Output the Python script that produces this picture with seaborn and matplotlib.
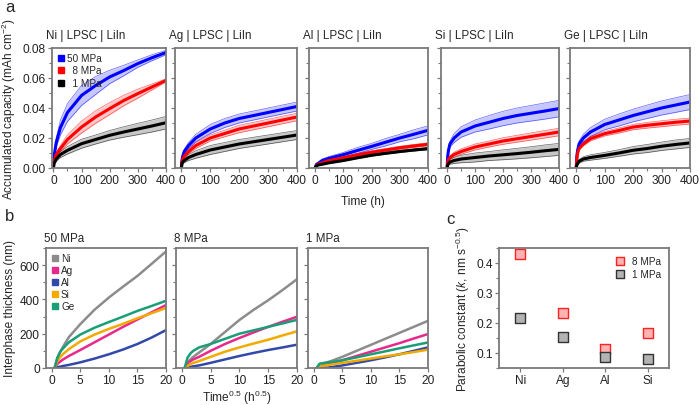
import numpy as np
import pandas as pd
import matplotlib
matplotlib.use("Agg")
import matplotlib.pyplot as plt
import seaborn as sns
from matplotlib.lines import Line2D
from matplotlib.ticker import MultipleLocator

# ---- panel a: accumulated capacity vs time ----
t_h = [0, 2, 5, 10, 25, 50, 100, 150, 200, 250, 300, 350, 400]

ni_50 = [0, 0.007, 0.011, 0.017, 0.027, 0.037, 0.0484, 0.055, 0.0607, 0.065, 0.0696, 0.0735, 0.077]
ni_50_err = [0, 0.001, 0.002, 0.003, 0.005, 0.006, 0.0067, 0.006, 0.0045, 0.0035, 0.0025, 0.002, 0.0015]
ni_8 = [0, 0.004, 0.006, 0.009, 0.013, 0.019, 0.0273, 0.034, 0.0396, 0.045, 0.0496, 0.054, 0.0584]
ni_8_err = [0, 0.0005, 0.001, 0.0015, 0.002, 0.003, 0.004, 0.0042, 0.004, 0.0035, 0.003, 0.002, 0.001]
ni_1 = [0, 0.003, 0.004, 0.006, 0.009, 0.0118, 0.0162, 0.019, 0.0218, 0.024, 0.026, 0.028, 0.0302]
ni_1_err = [0, 0.0005, 0.001, 0.0015, 0.002, 0.0025, 0.003, 0.003, 0.0032, 0.0035, 0.0038, 0.004, 0.0042]

ag_50 = [0, 0.005, 0.008, 0.011, 0.015, 0.020, 0.026, 0.030, 0.033, 0.035, 0.037, 0.039, 0.041]
ag_50_err = [0, 0.0005, 0.001, 0.0015, 0.002, 0.0025, 0.003, 0.003, 0.003, 0.003, 0.003, 0.003, 0.003]
ag_8 = [0, 0.004, 0.006, 0.008, 0.011, 0.015, 0.020, 0.023, 0.026, 0.028, 0.030, 0.032, 0.034]
ag_8_err = [0, 0.0005, 0.001, 0.001, 0.0015, 0.002, 0.002, 0.0022, 0.0025, 0.0025, 0.0025, 0.0025, 0.0025]
ag_1 = [0, 0.003, 0.004, 0.005, 0.007, 0.009, 0.012, 0.014, 0.016, 0.0175, 0.019, 0.0205, 0.022]
ag_1_err = [0, 0.0005, 0.001, 0.0015, 0.002, 0.0025, 0.003, 0.003, 0.003, 0.003, 0.003, 0.003, 0.003]

al_50 = [0, 0.0015, 0.0025, 0.003, 0.005, 0.0065, 0.0089, 0.0117, 0.0144, 0.0172, 0.020, 0.0225, 0.0251]
al_50_err = [0, 0.0003, 0.0005, 0.0007, 0.001, 0.0012, 0.0015, 0.002, 0.002, 0.0025, 0.0025, 0.003, 0.003]
al_8 = [0, 0.001, 0.0018, 0.0025, 0.0035, 0.005, 0.0068, 0.0088, 0.0105, 0.012, 0.0135, 0.0147, 0.0158]
al_8_err = [0, 0.0002, 0.0003, 0.0004, 0.0005, 0.0006, 0.0008, 0.0009, 0.001, 0.001, 0.001, 0.001, 0.001]
al_1 = [0, 0.0008, 0.0014, 0.002, 0.0025, 0.0035, 0.005, 0.0068, 0.0085, 0.0098, 0.011, 0.012, 0.0129]
al_1_err = [0, 0.0002, 0.0002, 0.0003, 0.0003, 0.0004, 0.0005, 0.0005, 0.0006, 0.0006, 0.0007, 0.0007, 0.0008]

si_50 = [0, 0.008, 0.012, 0.016, 0.020, 0.024, 0.028, 0.0305, 0.033, 0.035, 0.0365, 0.038, 0.0396]
si_50_err = [0, 0.001, 0.0015, 0.002, 0.003, 0.0035, 0.004, 0.0045, 0.0048, 0.005, 0.0052, 0.0054, 0.0055]
si_8 = [0, 0.004, 0.006, 0.007, 0.009, 0.011, 0.014, 0.016, 0.018, 0.0195, 0.021, 0.0225, 0.024]
si_8_err = [0, 0.0005, 0.001, 0.0012, 0.0015, 0.0018, 0.002, 0.002, 0.0022, 0.0023, 0.0024, 0.0025, 0.0025]
si_1 = [0, 0.002, 0.003, 0.004, 0.005, 0.006, 0.007, 0.008, 0.0088, 0.0096, 0.0105, 0.0115, 0.0124]
si_1_err = [0, 0.0005, 0.001, 0.0015, 0.002, 0.0025, 0.003, 0.003, 0.0033, 0.0035, 0.0037, 0.0039, 0.004]

ge_50 = [0, 0.008, 0.012, 0.016, 0.020, 0.024, 0.029, 0.032, 0.035, 0.0375, 0.040, 0.042, 0.044]
ge_50_err = [0, 0.001, 0.0015, 0.002, 0.0025, 0.003, 0.0035, 0.004, 0.0042, 0.0045, 0.0047, 0.0049, 0.005]
ge_8 = [0, 0.006, 0.010, 0.013, 0.016, 0.0196, 0.0229, 0.025, 0.0273, 0.0285, 0.0295, 0.0305, 0.0313]
ge_8_err = [0, 0.0005, 0.001, 0.001, 0.0012, 0.0015, 0.0015, 0.0017, 0.0018, 0.0019, 0.002, 0.002, 0.002]
ge_1 = [0, 0.002, 0.003, 0.0045, 0.006, 0.007, 0.0084, 0.010, 0.0118, 0.013, 0.0145, 0.0157, 0.0167]
ge_1_err = [0, 0.0005, 0.001, 0.0012, 0.0015, 0.0018, 0.002, 0.0022, 0.0025, 0.0027, 0.0028, 0.003, 0.003]

cells = ["Ni", "Ag", "Al", "Si", "Ge"]
pressures_a = ["50 MPa", "8 MPa", "1 MPa"]
cap_series = {
    "Ni": [(ni_50, ni_50_err), (ni_8, ni_8_err), (ni_1, ni_1_err)],
    "Ag": [(ag_50, ag_50_err), (ag_8, ag_8_err), (ag_1, ag_1_err)],
    "Al": [(al_50, al_50_err), (al_8, al_8_err), (al_1, al_1_err)],
    "Si": [(si_50, si_50_err), (si_8, si_8_err), (si_1, si_1_err)],
    "Ge": [(ge_50, ge_50_err), (ge_8, ge_8_err), (ge_1, ge_1_err)],
}

# ---- panel b: interphase thickness vs sqrt(time) ----
sqrt_t = [0.5, 1, 1.5, 2, 3, 5, 7.5, 10, 12.5, 15, 17.5, 20]

th_50_ni = [0, 60, 95, 125, 180, 256, 340, 411, 475, 537, 608, 680]
th_50_ag = [0, 25, 38, 50, 70, 105, 150, 195, 240, 283, 325, 367]
th_50_al = [0, 5, 8, 12, 18, 33, 55, 80, 108, 140, 178, 221]
th_50_si = [0, 40, 65, 82, 110, 155, 195, 228, 258, 290, 320, 350]
th_50_ge = [0, 60, 95, 115, 150, 195, 235, 268, 300, 333, 362, 392]

th_8_ni = [0, 30, 50, 65, 90, 140, 210, 280, 340, 395, 455, 518]
th_8_ag = [0, 25, 40, 50, 65, 100, 140, 175, 208, 240, 270, 299]
th_8_al = [0, 3, 6, 10, 15, 30, 50, 70, 88, 105, 120, 136]
th_8_si = [0, 12, 22, 30, 40, 65, 95, 120, 143, 165, 190, 214]
th_8_ge = [0, 60, 85, 100, 120, 140, 170, 200, 220, 240, 260, 281]

th_1_ni = [0, 8, 18, 30, 40, 65, 100, 135, 170, 205, 240, 275]
th_1_ag = [0, 5, 10, 15, 25, 45, 70, 95, 120, 145, 172, 198]
th_1_al = [0, 0, 0, 0, 5, 15, 30, 45, 62, 80, 100, 120]
th_1_si = [0, 10, 12, 15, 20, 30, 42, 55, 68, 80, 93, 107]
th_1_ge = [0, 25, 28, 30, 35, 45, 62, 80, 97, 115, 132, 149]

pressures_b = ["50 MPa", "8 MPa", "1 MPa"]
th_series = {
    "50 MPa": [th_50_ni, th_50_ag, th_50_al, th_50_si, th_50_ge],
    "8 MPa": [th_8_ni, th_8_ag, th_8_al, th_8_si, th_8_ge],
    "1 MPa": [th_1_ni, th_1_ag, th_1_al, th_1_si, th_1_ge],
}

# ---- panel c: parabolic constants ----
metals_c = ["Ni", "Ag", "Al", "Si"]
k_8mpa = [0.43, 0.232, 0.112, 0.167]
k_1mpa = [0.216, 0.153, 0.087, 0.081]

# ---- style ----
sns.set_theme(style="ticks")
plt.rcParams["font.family"] = ["Liberation Sans", "DejaVu Sans"]
plt.rcParams["mathtext.fontset"] = "custom"
plt.rcParams["mathtext.rm"] = "Liberation Sans"
plt.rcParams["mathtext.it"] = "Liberation Sans:italic"
plt.rcParams["font.size"] = 8

SPINE = "#7a7a7a"
TICK_FS = 8.6
LABEL_FS = 8.6
TITLE_FS = 8.4
pal_a = ["#0000ff", "#ff0000", "#000000"]
pal_b = ["#8c8c8c", "#e8288a", "#3349aa", "#f2a900", "#1a9e77"]

W, H = 700, 406
fig = plt.figure(figsize=(7.0, 4.06), dpi=100)


def add_ax(left, top, right, bottom):
    return fig.add_axes([left / W, 1 - bottom / H, (right - left) / W, (bottom - top) / H])


def style_ax(ax):
    for s in ax.spines.values():
        s.set_color(SPINE)
        s.set_linewidth(1.3)
    ax.tick_params(which="major", direction="out", length=3, width=0.9, color=SPINE,
                   labelsize=TICK_FS, labelcolor="#222222", pad=1.5)
    ax.tick_params(which="minor", direction="out", length=2, width=0.8, color=SPINE)
    ax.tick_params(top=False, right=False)


# panel a
a_boxes = [(52, 49, 166, 169), (175, 49, 297, 169), (309, 49, 428, 169),
           (441, 49, 559, 169), (570, 49, 690, 169)]
for i, cell in enumerate(cells):
    ax = add_ax(*a_boxes[i])
    rows = []
    for p, (mean, err) in zip(pressures_a, cap_series[cell]):
        for t, m in zip(t_h, mean):
            rows.append({"t": t, "cap": m, "pressure": p})
    df = pd.DataFrame(rows)
    for c, (mean, err) in zip(pal_a, cap_series[cell]):
        lo = np.array(mean) - np.array(err)
        hi = np.array(mean) + np.array(err)
        ax.fill_between(t_h, lo, hi, color=c, alpha=0.22, lw=0)
        ax.plot(t_h, lo, color=c, lw=0.5, alpha=0.6)
        ax.plot(t_h, hi, color=c, lw=0.5, alpha=0.6)
    sns.lineplot(data=df, x="t", y="cap", hue="pressure", hue_order=pressures_a,
                 palette=pal_a, lw=2.2, legend=False, ax=ax, estimator=None)
    ax.set_xlim(-5 if i == 0 else -22, 400)
    ax.set_ylim(0, 0.08)
    ax.xaxis.set_major_locator(MultipleLocator(100))
    ax.xaxis.set_minor_locator(MultipleLocator(50))
    ax.yaxis.set_major_locator(MultipleLocator(0.02))
    ax.yaxis.set_minor_locator(MultipleLocator(0.01))
    ax.set_xlabel("")
    ax.set_ylabel("")
    style_ax(ax)
    if i == 0:
        ax.set_yticklabels([f"{v:.2f}" for v in ax.get_yticks()])
        ax.set_ylabel("Accumulated capacity (mAh cm$^{-2}$)", fontsize=LABEL_FS, labelpad=3)
        handles = [Line2D([], [], ls="", marker="s", ms=5, color=c) for c in pal_a]
        ax.legend(handles, ["50 MPa", "  8 MPa", "  1 MPa"], loc="upper left", frameon=False,
                  fontsize=7.2, handletextpad=0.2, handlelength=0.8, labelspacing=0.25,
                  borderaxespad=0.3, borderpad=0.2)
    else:
        ax.tick_params(labelleft=False)
    ax.set_title(f"{cell} | LPSC | LiIn", loc="left", fontsize=TITLE_FS, pad=7, x=-0.05)

fig.text(363 / W, 1 - 202 / H, "Time (h)", ha="center", va="center", fontsize=LABEL_FS)

# panel b
b_boxes = [(46, 249, 166, 369), (176, 249, 297, 369), (308, 249, 428, 369)]
for i, p in enumerate(pressures_b):
    ax = add_ax(*b_boxes[i])
    rows = []
    for m, vals in zip(cells, th_series[p]):
        for x, v in zip(sqrt_t, vals):
            rows.append({"x": x, "th": v, "metal": m})
    df = pd.DataFrame(rows)
    sns.lineplot(data=df, x="x", y="th", hue="metal", hue_order=cells, palette=pal_b,
                 lw=1.8, legend=False, ax=ax, estimator=None)
    ax.set_xlim(-1, 20)
    ax.set_ylim(0, 700)
    ax.xaxis.set_major_locator(MultipleLocator(5))
    ax.yaxis.set_major_locator(MultipleLocator(200))
    ax.yaxis.set_minor_locator(MultipleLocator(100))
    ax.set_xlabel("")
    ax.set_ylabel("")
    style_ax(ax)
    if i == 0:
        ax.set_ylabel("Interphase thickness (nm)", fontsize=LABEL_FS, labelpad=3)
        handles = [Line2D([], [], ls="", marker="s", ms=5, color=c) for c in pal_b]
        ax.legend(handles, cells, loc="upper left", frameon=False, fontsize=7.2,
                  handletextpad=0.2, handlelength=0.8, labelspacing=0.2,
                  borderaxespad=0.3, borderpad=0.2)
    else:
        ax.tick_params(labelleft=False)
    ax.set_title(p, loc="left", fontsize=TITLE_FS, pad=5, x=-0.02)

fig.text(237 / W, 1 - 398 / H, "Time$^{0.5}$ (h$^{0.5}$)", ha="center", va="center",
         fontsize=LABEL_FS)

# panel c
ax = add_ax(499, 249, 669, 369)
dfc = pd.DataFrame({"metal": metals_c * 2,
                    "k": k_8mpa + k_1mpa,
                    "pressure": ["8 MPa"] * 4 + ["1 MPa"] * 4})
dfc["pos"] = dfc["metal"].map({m: j for j, m in enumerate(metals_c)})
sns.scatterplot(data=dfc[dfc.pressure == "8 MPa"], x="pos", y="k", marker="s", s=55,
                color="#ffb3b3", edgecolor="#ff2020", linewidth=1.0, ax=ax, label="8 MPa")
sns.scatterplot(data=dfc[dfc.pressure == "1 MPa"], x="pos", y="k", marker="s", s=55,
                color="#b3b3b3", edgecolor="#333333", linewidth=1.0, ax=ax, label="1 MPa")
ax.set_xlim(-0.5, 3.5)
ax.set_ylim(0.05, 0.45)
ax.set_xticks(range(len(metals_c)))
ax.set_xticklabels(metals_c)
ax.yaxis.set_major_locator(MultipleLocator(0.1))
ax.yaxis.set_minor_locator(MultipleLocator(0.05))
ax.set_xlabel("")
ax.set_ylabel(r"Parabolic constant ($\it{k}$, nm s$^{-0.5}$)", fontsize=LABEL_FS, labelpad=3)
style_ax(ax)
ax.legend(loc="upper right", frameon=False, fontsize=7.2, handletextpad=0.2,
          markerscale=0.85, labelspacing=0.3, borderaxespad=0.4)

# panel letters
fig.text(5 / W, 1 - 8 / H, "a", fontsize=12, va="center", ha="left")
fig.text(5 / W, 1 - 217 / H, "b", fontsize=12, va="center", ha="left")
fig.text(446 / W, 1 - 220 / H, "c", fontsize=12, va="center", ha="left")

fig.savefig("out.png", dpi=100)
